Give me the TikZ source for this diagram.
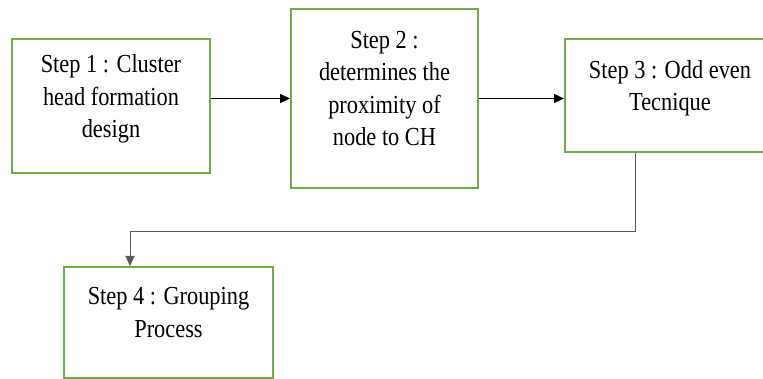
\documentclass[tikz,border=0pt]{standalone}
\usepackage{fontspec}
\setmainfont{Liberation Serif}[FakeStretch=0.86]
\usetikzlibrary{arrows.meta}
\definecolor{stepgreen}{RGB}{112,173,71}
\tikzset{
	stepbox/.style={draw=stepgreen, line width=2pt, fill=white, align=center, inner sep=0pt,
		text depth=20pt, font=\fontsize{26}{32.5}\selectfont},
	flow/.style={line width=1pt, -{Triangle[length=10pt,width=9pt]}}
}

\begin{document}
\begin{tikzpicture}[x=1pt,y=-1pt]
	\useasboundingbox (0,0) rectangle (763,379);
			\node[stepbox, minimum width=198pt, minimum height=134pt] (box1) at (111,106)
				{Step 1 : Cluster\\head formation\\design};
			\node[stepbox, minimum width=187pt, minimum height=179pt] (box2) at (384.5,98.5)
				{Step 2 :\\determines the\\proximity of\\node to CH};
			\node[stepbox, minimum width=210pt, minimum height=113pt] (box3) at (670,95.5)
				{Step 3 : Odd even\\Tecnique};
			\node[stepbox, minimum width=209pt, minimum height=111pt] (box4) at (168.5,322.5)
				{Step 4 : Grouping\\Process};
%			connectors
			\coordinate (bend) at (635,232);
			\coordinate (drop) at (130,232);
			\draw[flow] (box1.east |- box2.west) -- (box2.west);
			\draw[flow] (box2.east) -- (box2.east -| box3.west);
			\draw[flow, draw=black!65] (bend |- box3.south) -- (bend) -- (drop) -- (drop |- box4.north);
	\end{tikzpicture}
\end{document}
